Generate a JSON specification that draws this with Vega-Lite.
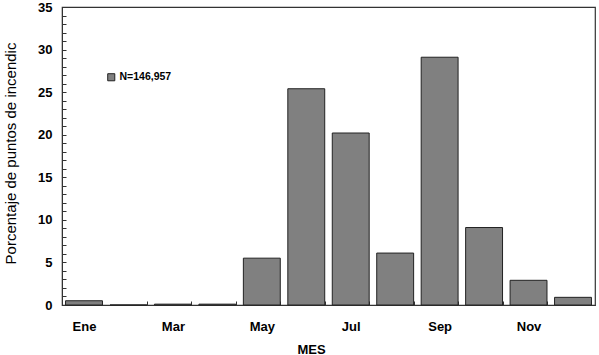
{
  "$schema": "https://vega.github.io/schema/vega-lite/v6.json",
  "width": 533,
  "height": 298,
  "autosize": {"type": "none"},
  "padding": {"left": 62, "top": 7, "right": 4, "bottom": 50},
  "background": "white",
  "config": {
    "view": {"stroke": "#333", "strokeWidth": 1.2},
    "font": "Liberation Sans"
  },
  "data": {
    "values": [
      {"mes": "Ene", "pct": 0.5, "serie": "N=146,957"},
      {"mes": "Feb", "pct": 0.0, "serie": "N=146,957"},
      {"mes": "Mar", "pct": 0.1, "serie": "N=146,957"},
      {"mes": "Abr", "pct": 0.1, "serie": "N=146,957"},
      {"mes": "May", "pct": 5.5, "serie": "N=146,957"},
      {"mes": "Jun", "pct": 25.4, "serie": "N=146,957"},
      {"mes": "Jul", "pct": 20.2, "serie": "N=146,957"},
      {"mes": "Ago", "pct": 6.1, "serie": "N=146,957"},
      {"mes": "Sep", "pct": 29.1, "serie": "N=146,957"},
      {"mes": "Oct", "pct": 9.1, "serie": "N=146,957"},
      {"mes": "Nov", "pct": 2.9, "serie": "N=146,957"},
      {"mes": "Dic", "pct": 0.9, "serie": "N=146,957"}
    ]
  },
  "mark": {"type": "bar", "stroke": "#222", "strokeWidth": 1},
  "encoding": {
    "x": {
      "field": "mes",
      "type": "nominal",
      "sort": null,
      "scale": {"paddingInner": 0.17, "paddingOuter": 0.08},
      "axis": {
        "title": "MES",
        "titleFont": "Liberation Sans",
        "titleFontSize": 13,
        "titleFontWeight": "bold",
        "titleColor": "#000",
        "titleX": 249,
        "titleY": 48,
        "titleAlign": "center",
        "titleBaseline": "alphabetic",
        "labelAngle": 0,
        "labelFont": "Liberation Sans",
        "labelFontSize": 13,
        "labelFontWeight": "bold",
        "labelColor": "#000",
        "labelPadding": 19,
        "labelExpr": "indexof(['Ene','Mar','May','Jul','Sep','Nov'], datum.value) >= 0 ? datum.value : ''",
        "tickBand": "extent",
        "tickSize": -4,
        "tickColor": "#333",
        "domainColor": "#333",
        "grid": false
      }
    },
    "y": {
      "field": "pct",
      "type": "quantitative",
      "scale": {"domain": [0, 35], "nice": false},
      "axis": {
        "title": "Porcentaje de puntos de incendic",
        "titleFont": "Liberation Sans",
        "titleFontSize": 15,
        "titleFontWeight": "normal",
        "titleColor": "#000",
        "titleX": -52,
        "titleY": 146,
        "titleBaseline": "middle",
        "values": [0,1,2,3,4,5,6,7,8,9,10,11,12,13,14,15,16,17,18,19,20,21,22,23,24,25,26,27,28,29,30,31,32,33,34,35],
        "labelExpr": "datum.value % 5 == 0 ? datum.label : ''",
        "labelFont": "Liberation Sans",
        "labelFontSize": 13,
        "labelFontWeight": "bold",
        "labelColor": "#000",
        "labelPadding": 14,
        "tickSize": -4,
        "tickColor": "#333",
        "domainColor": "#333",
        "grid": false
      }
    },
    "color": {
      "field": "serie",
      "type": "nominal",
      "scale": {"range": ["#808080"]},
      "legend": {
        "title": null,
        "orient": "none",
        "legendX": 44,
        "legendY": 65,
        "padding": 0,
        "symbolType": "square",
        "symbolSize": 50,
        "symbolStrokeColor": "#222",
        "symbolStrokeWidth": 1,
        "labelFont": "Liberation Sans",
        "labelFontSize": 10.5,
        "labelFontWeight": "bold",
        "labelColor": "#000",
        "labelOffset": 3
      }
    }
  }
}
